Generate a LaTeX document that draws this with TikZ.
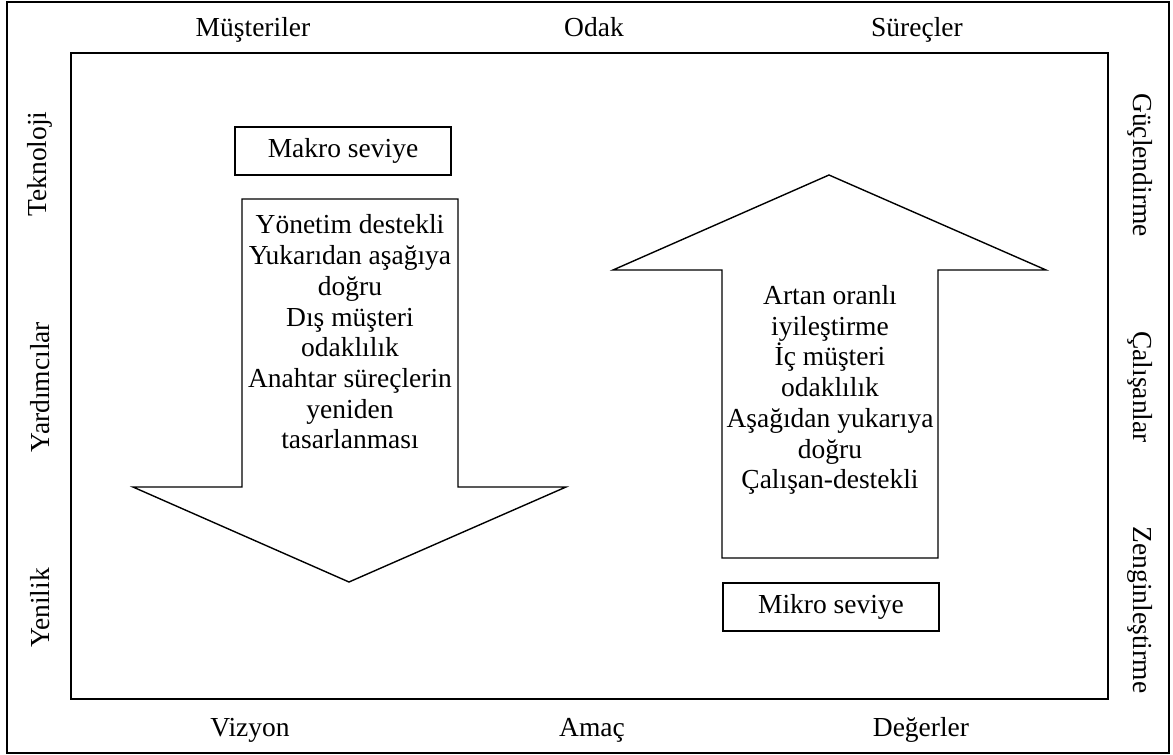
\documentclass[tikz,border=0pt]{standalone}
\usepackage{fontspec}
\setmainfont{Liberation Serif}
\begin{document}
\begin{tikzpicture}[x=1pt,y=-1pt,
  lbl/.style={font=\fontsize{27.5}{30.7}\selectfont, inner sep=0pt},
  body/.style={font=\fontsize{27.5}{30.7}\selectfont, align=center, inner sep=0pt},
  levelbox/.style={draw, line width=1.4pt, font=\fontsize{27.5}{30.7}\selectfont,
    minimum width=216pt, minimum height=48pt, inner sep=0pt},
  bigarrow/.style={draw, line width=1.4pt, line join=miter}]
\useasboundingbox (0,0) rectangle (1173,755);

% frames
\draw[line width=2pt] (7,2) rectangle (1169,753);
\draw[line width=2.6pt] (71,53) rectangle (1108,699);

% labels along the frame
\node[lbl, anchor=base] (musteriler) at (253,36) {Müşteriler};
\node[lbl, anchor=base] (odak) at (594,36) {Odak};
\node[lbl, anchor=base] (surecler) at (917,36) {Süreçler};
\node[lbl, anchor=base] (vizyon) at (250,736) {Vizyon};
\node[lbl, anchor=base] (amac) at (592,736) {Amaç};
\node[lbl, anchor=base] (degerler) at (921,736) {Değerler};
\node[lbl, rotate=90] (teknoloji) at (40,164) {Teknoloji};
\node[lbl, rotate=90] (yardimcilar) at (40,387) {Yardımcılar};
\node[lbl, rotate=90] (yenilik) at (40,608) {Yenilik};
\node[lbl, rotate=-90] (guclendirme) at (1140,165) {Güçlendirme};
\node[lbl, rotate=-90] (calisanlar) at (1140,387) {Çalışanlar};
\node[lbl, rotate=-90] (zenginlestirme) at (1140,610) {Zenginleştirme};

% downward arrow (macro level)
\draw[bigarrow] (242,199) -- (458,199) -- (458,487) -- (566,487) -- (349,582)
  -- (133,487) -- (242,487) -- cycle;
\node[levelbox] (makro) at (343,151) {Makro seviye};
\node[body] (downtext) at (350,332) {Yönetim destekli\\Yukarıdan aşağıya\\doğru\\Dış müşteri\\odaklılık\\Anahtar süreçlerin\\yeniden\\tasarlanması};

% upward arrow (micro level)
\draw[bigarrow] (722,558) -- (722,270) -- (613,270) -- (829,175) -- (1046,270)
  -- (938,270) -- (938,558) -- cycle;
\node[levelbox] (mikro) at (831,607) {Mikro seviye};
\node[body] (uptext) at (830,390) {Artan oranlı\\iyileştirme\\İç müşteri\\odaklılık\\Aşağıdan yukarıya\\doğru\\Çalışan-destekli};
\end{tikzpicture}
\end{document}
